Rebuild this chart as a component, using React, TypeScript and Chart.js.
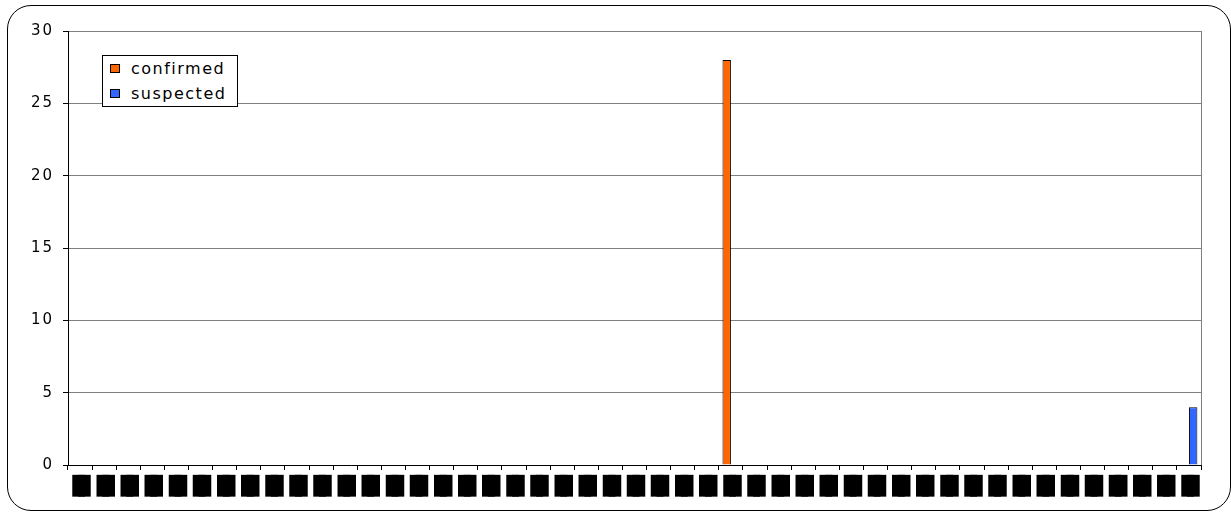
import React, { useEffect, useRef } from "react";
import { Chart, registerables } from "chart.js";

Chart.register(...registerables);

const categories = [
  "██", "██", "██", "██", "██", "██", "██", "██", "██", "██",
  "██", "██", "██", "██", "██", "██", "██", "██", "██", "██",
  "██", "██", "██", "██", "██", "██", "██", "██", "██", "██",
  "██", "██", "██", "██", "██", "██", "██", "██", "██", "██",
  "██", "██", "██", "██", "██", "██", "██",
];

const confirmed = [
  0, 0, 0, 0, 0, 0, 0, 0, 0, 0,
  0, 0, 0, 0, 0, 0, 0, 0, 0, 0,
  0, 0, 0, 0, 0, 0, 0, 28, 0, 0,
  0, 0, 0, 0, 0, 0, 0, 0, 0, 0,
  0, 0, 0, 0, 0, 0, 0,
];

const suspected = [
  0, 0, 0, 0, 0, 0, 0, 0, 0, 0,
  0, 0, 0, 0, 0, 0, 0, 0, 0, 0,
  0, 0, 0, 0, 0, 0, 0, 0, 0, 0,
  0, 0, 0, 0, 0, 0, 0, 0, 0, 0,
  0, 0, 0, 0, 0, 0, 4,
];

const yTicks = { min: 0, max: 30, step: 5 };

const seriesNames = ["confirmed", "suspected"];
const seriesColors = ["#FF6600", "#3366FF"];

const framePlugin = {
  id: "frame",
  beforeDraw(chart: any) {
    try {
      (chart.ctx as any).letterSpacing = "2px";
    } catch (e) {}
  },
  afterDatasetsDraw(chart: any) {
    try {
      (chart.ctx as any).letterSpacing = "-7px";
    } catch (e) {}
  },
  afterDraw(chart: any) {
    const { ctx, chartArea } = chart;
    try {
      (ctx as any).letterSpacing = "0px";
    } catch (e) {}
    ctx.save();
    ctx.strokeStyle = "#808080";
    ctx.lineWidth = 1;
    ctx.beginPath();
    ctx.moveTo(Math.round(chartArea.right) + 0.5, chartArea.top);
    ctx.lineTo(Math.round(chartArea.right) + 0.5, chartArea.bottom);
    ctx.stroke();
    ctx.restore();
  },
};

export default function App() {
  const ref = useRef<HTMLCanvasElement>(null);

  useEffect(() => {
    const chart = new Chart(ref.current as HTMLCanvasElement, {
      type: "bar",
      data: {
        labels: categories,
        datasets: [
          {
            label: seriesNames[0],
            data: confirmed,
            backgroundColor: seriesColors[0],
            borderColor: "#000",
            borderWidth: 1,
            categoryPercentage: 0.7,
            barPercentage: 1,
          },
          {
            label: seriesNames[1],
            data: suspected,
            backgroundColor: seriesColors[1],
            borderColor: "#000",
            borderWidth: 1,
            categoryPercentage: 0.7,
            barPercentage: 1,
          },
        ],
      },
      options: {
        responsive: false,
        animation: false,
        devicePixelRatio: 1,
        layout: { padding: { left: 0, top: 31, right: 30, bottom: 7 } },
        plugins: {
          legend: { display: false },
          tooltip: { enabled: false },
        },
        scales: {
          x: {
            grid: {
              display: true,
              drawOnChartArea: false,
              offset: true,
              tickLength: 5,
              color: "#000",
              tickColor: "#000",
            },
            border: { color: "#000" },
            ticks: {
              font: { family: "'Liberation Sans'", size: 18 },
              color: "#000",
              padding: 5,
              labelOffset: -2,
              maxRotation: 0,
              autoSkip: false,
              z: 1,
            },
            afterFit: (s: any) => {
              s.height = 40;
            },
          },
          y: {
            min: yTicks.min,
            max: yTicks.max,
            ticks: {
              stepSize: yTicks.step,
              color: "#000",
              font: { family: "DejaVu Sans", size: 15 },
              padding: 9,
            },
            grid: { color: "#808080", tickColor: "#000", tickLength: 5 },
            border: { color: "#000" },
            afterFit: (s: any) => {
              s.width = 68;
            },
          },
        },
      },
      plugins: [framePlugin],
    });
    return () => chart.destroy();
  }, []);

  const legendItem = (i: number, top: number) => (
    <div
      key={i}
      style={{
        position: "absolute",
        left: 7,
        top,
        height: 22,
        display: "flex",
        alignItems: "center",
        whiteSpace: "nowrap",
      }}
    >
      <span
        style={{
          display: "inline-block",
          width: 10,
          height: 9,
          boxSizing: "border-box",
          border: "1px solid #000",
          background: seriesColors[i],
          marginRight: 11,
        }}
      />
      <span
        style={{
          fontFamily: "'DejaVu Sans'",
          fontSize: 16,
          letterSpacing: 1.5,
          color: "#000",
        }}
      >
        {seriesNames[i]}
      </span>
    </div>
  );

  return (
    <div
      style={{
        position: "absolute",
        left: 0,
        top: 0,
        width: 1231,
        height: 512,
        overflow: "hidden",
        background: "#fff",
      }}
    >
      <div
        style={{
          position: "absolute",
          left: 7,
          top: 5,
          width: 1224,
          height: 506,
          boxSizing: "border-box",
          border: "1.5px solid #000",
          borderRadius: 24,
        }}
      />
      <canvas
        ref={ref}
        width={1231}
        height={512}
        style={{ position: "absolute", left: 0, top: 0, width: 1231, height: 512 }}
      />
      <div
        style={{
          position: "absolute",
          left: 102,
          top: 55,
          width: 136,
          height: 52,
          boxSizing: "border-box",
          border: "1px solid #000",
          background: "#fff",
        }}
      >
        {legendItem(0, 1)}
        {legendItem(1, 26)}
      </div>
    </div>
  );
}
